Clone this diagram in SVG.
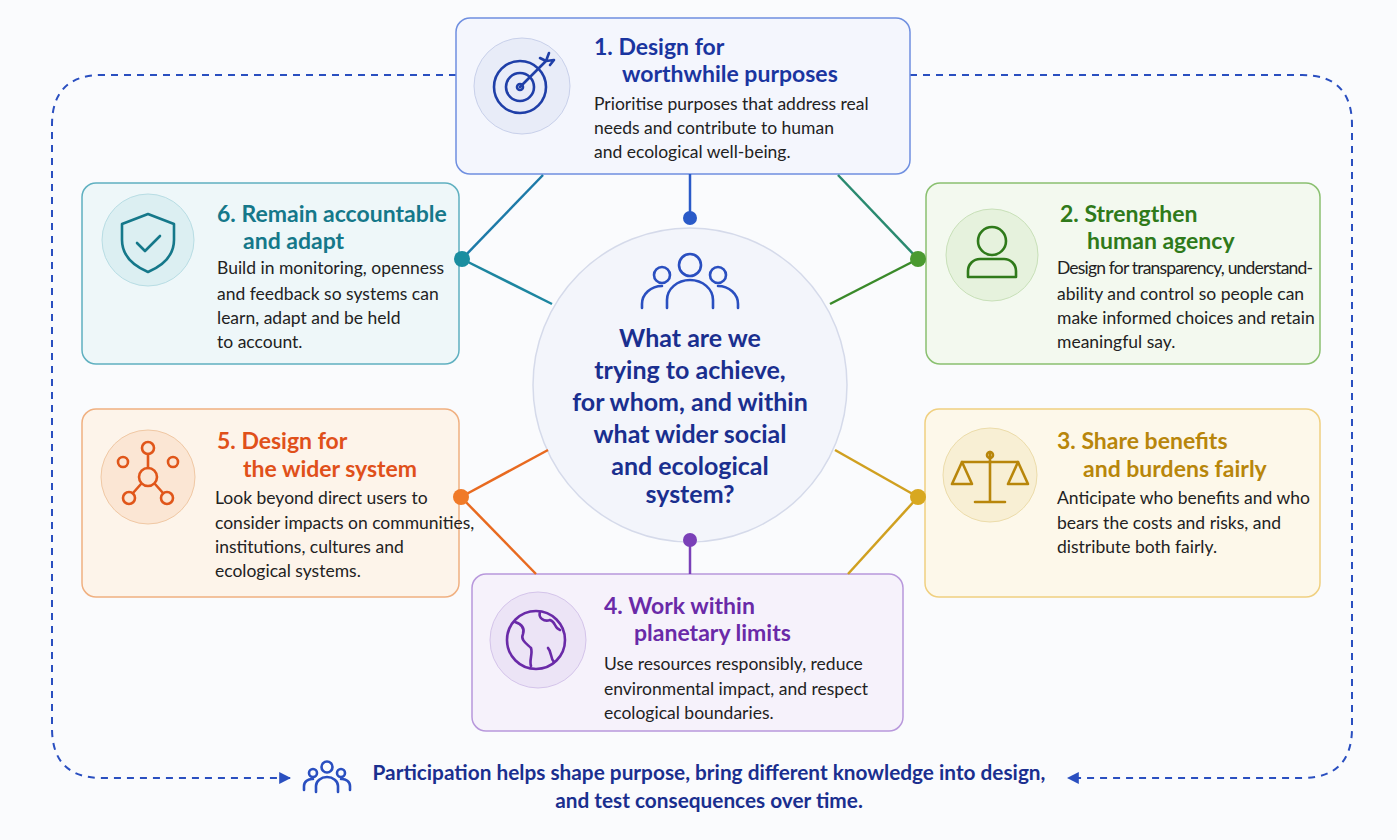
<svg xmlns="http://www.w3.org/2000/svg" width="1397" height="840" viewBox="0 0 1397 840">
<defs>
<style>
text{font-family:"Lato","Open Sans","Liberation Sans",sans-serif}
.t{font-size:23px;font-weight:bold}
.b{font-size:17.5px;fill:#222}
.box{stroke-width:1.5}
.ic{fill:none;stroke-width:2.6;stroke-linecap:round;stroke-linejoin:round}
.dash{fill:none;stroke:#2a4fc0;stroke-width:2;stroke-dasharray:7 6}
</style>
<marker id="ah" viewBox="0 0 10 10" refX="9" refY="5" markerWidth="6" markerHeight="6" orient="auto"><path d="M0,0L10,5L0,10z" fill="#2a4fc0"/></marker>
</defs>
<rect width="1397" height="840" fill="#fafbfd"/>
<g id="loop">
<path class="dash" d="M456,75H102Q52,75 52,125V728Q52,778 102,778H290" marker-end="url(#ah)"/>
<path class="dash" d="M910,75H1302Q1352,75 1352,125V728Q1352,778 1302,778H1068" marker-end="url(#ah)"/>
</g>
<g id="center">
<circle cx="690" cy="385" r="157" fill="#f3f5fb" stroke="#d5daea" stroke-width="1.5"/>
<g class="ic" stroke="#2a4fc0">
<circle cx="690" cy="265" r="11"/><path d="M667,308v-8a23,20 0 0 1 46,0v8"/>
<circle cx="662" cy="275" r="8"/><path d="M642,308v-4a20,18 0 0 1 20,-18"/>
<circle cx="718" cy="275" r="8"/><path d="M738,308v-4a20,18 0 0 0 -20,-18"/>
</g>
<g font-size="25" font-weight="bold" fill="#1a2f8f" text-anchor="middle">
<text x="690" y="347">What are we</text>
<text x="690" y="379">trying to achieve,</text>
<text x="690" y="411">for whom, and within</text>
<text x="690" y="443">what wider social</text>
<text x="690" y="475">and ecological</text>
<text x="690" y="503">system?</text>
</g>
</g>
<g id="n1">
<rect class="box" x="456" y="18" width="454" height="156" rx="14" fill="#f4f6fd" stroke="#6f8fe0"/>
<circle cx="522" cy="86" r="48" fill="#e8ecf8" stroke="#c8d0ea"/>
<g class="ic" stroke="#1f3fa8"><circle cx="520" cy="87" r="26"/><circle cx="520" cy="87" r="14"/><circle cx="520" cy="87" r="3"/><path d="M520,87L546,61M540,58l6,3l3,-8M546,61l8,-1l-4,5"/></g>
<text class="t" x="594" y="55" fill="#1a35a0">1. Design for</text>
<text class="t" x="622" y="82" fill="#1a35a0">worthwhile purposes</text>
<text class="b" x="594" y="110">Prioritise purposes that address real</text>
<text class="b" x="594" y="134">needs and contribute to human</text>
<text class="b" x="594" y="158">and ecological well-being.</text>
</g>
<g id="n6">
<rect class="box" x="82" y="183" width="377" height="181" rx="14" fill="#eef7f9" stroke="#5fb0c0"/>
<circle cx="148" cy="240" r="46" fill="#dcefF2" stroke="#b8dde4"/>
<g class="ic" stroke="#15788a"><path d="M148,214l-26,10v16c0,16 12,26 26,32c14,-6 26,-16 26,-32v-16z"/><path d="M137,243l8,8l15,-15"/></g>
<text class="t" x="217" y="222" fill="#15788a">6. Remain accountable</text>
<text class="t" x="243" y="249" fill="#15788a">and adapt</text>
<text class="b" x="217" y="274">Build in monitoring, openness</text>
<text class="b" x="217" y="300">and feedback so systems can</text>
<text class="b" x="217" y="324">learn, adapt and be held</text>
<text class="b" x="217" y="348">to account.</text>
</g>
<g id="n2">
<rect class="box" x="926" y="183" width="394" height="181" rx="14" fill="#f3f9ef" stroke="#8ac070"/>
<circle cx="992" cy="255" r="46" fill="#e6f2dd" stroke="#c8e0b8"/>
<g class="ic" stroke="#2f7a1a"><circle cx="992" cy="241" r="14"/><path d="M968,277v-6a12,12 0 0 1 12,-12h24a12,12 0 0 1 12,12v6z"/></g>
<text class="t" x="1060" y="222" fill="#2f7a1a">2. Strengthen</text>
<text class="t" x="1087" y="249" fill="#2f7a1a">human agency</text>
<text class="b" x="1057" y="274" textLength="256">Design for transparency, understand-</text>
<text class="b" x="1057" y="300">ability and control so people can</text>
<text class="b" x="1057" y="324">make informed choices and retain</text>
<text class="b" x="1057" y="348">meaningful say.</text>
</g>
<g id="n5">
<rect class="box" x="82" y="409" width="377" height="188" rx="14" fill="#fdf4ea" stroke="#f0b080"/>
<circle cx="148" cy="477" r="47" fill="#fbe6d4" stroke="#f0c8a4"/>
<g class="ic" stroke="#e0561a"><circle cx="148" cy="477" r="9"/><circle cx="148" cy="448" r="6"/><circle cx="123" cy="462" r="5"/><circle cx="173" cy="462" r="5"/><circle cx="129" cy="498" r="6"/><circle cx="167" cy="498" r="6"/><path d="M148,454v14M141,484l-8,9M155,484l8,9"/></g>
<text class="t" x="217" y="449" fill="#e0501a">5. Design for</text>
<text class="t" x="243" y="477" fill="#e0501a">the wider system</text>
<text class="b" x="215" y="504">Look beyond direct users to</text>
<text class="b" x="215" y="529">consider impacts on communities,</text>
<text class="b" x="215" y="553">institutions, cultures and</text>
<text class="b" x="215" y="577">ecological systems.</text>
</g>
<g id="n3">
<rect class="box" x="925" y="409" width="395" height="188" rx="14" fill="#fdf8ea" stroke="#f0d080"/>
<circle cx="990" cy="475" r="47" fill="#f8efd4" stroke="#ecdcaa"/>
<g class="ic" stroke="#b8860b"><path d="M990,452v50M975,502h30M962,462h56"/><circle cx="990" cy="455" r="3"/><path d="M962,462l-10,22h20zM1018,462l-10,22h20z"/></g>
<text class="t" x="1057" y="449" fill="#b8860b">3. Share benefits</text>
<text class="t" x="1083" y="477" fill="#b8860b">and burdens fairly</text>
<text class="b" x="1057" y="504">Anticipate who benefits and who</text>
<text class="b" x="1057" y="529">bears the costs and risks, and</text>
<text class="b" x="1057" y="553">distribute both fairly.</text>
</g>
<g id="n4">
<rect class="box" x="472" y="574" width="431" height="157" rx="14" fill="#f6f2fb" stroke="#b898dc"/>
<circle cx="538" cy="640" r="48" fill="#ece4f6" stroke="#d4c4ea"/>
<g class="ic" stroke="#6a2aa8"><circle cx="536" cy="640" r="29"/><path d="M515,622c6,2 10,6 8,12c-3,6 4,10 8,14c2,6 -2,12 0,18M540,612c-2,6 4,10 10,8c6,2 4,8 10,10M548,648c4,4 2,10 6,14"/></g>
<text class="t" x="604" y="614" fill="#6a2aa8">4. Work within</text>
<text class="t" x="634" y="641" fill="#6a2aa8">planetary limits</text>
<text class="b" x="604" y="670">Use resources responsibly, reduce</text>
<text class="b" x="604" y="695">environmental impact, and respect</text>
<text class="b" x="604" y="719">ecological boundaries.</text>
</g>
<g id="connectors" stroke-width="2.5">
<line x1="690" y1="174" x2="690" y2="218" stroke="#2a5ac8"/>
<line x1="543" y1="175" x2="462" y2="259" stroke="#1d7aa8"/>
<line x1="462" y1="259" x2="552" y2="304" stroke="#1d86a0"/>
<line x1="838" y1="175" x2="918" y2="259" stroke="#2a8a70"/>
<line x1="918" y1="259" x2="830" y2="304" stroke="#3a8a2a"/>
<line x1="548" y1="450" x2="461" y2="497" stroke="#e86a20"/>
<line x1="461" y1="497" x2="536" y2="574" stroke="#e86a20"/>
<line x1="835" y1="450" x2="918" y2="497" stroke="#d0a020"/>
<line x1="918" y1="497" x2="848" y2="574" stroke="#d0a020"/>
<line x1="690" y1="540" x2="690" y2="574" stroke="#7a40b8"/>
<circle cx="690" cy="218" r="7" fill="#2a5ac8"/>
<circle cx="462" cy="259" r="8" fill="#1a8ea0"/>
<circle cx="918" cy="259" r="8" fill="#4a9a30"/>
<circle cx="461" cy="497" r="8" fill="#f07a28"/>
<circle cx="918" cy="497" r="8" fill="#d8a820"/>
<circle cx="690" cy="540" r="7" fill="#7a40b8"/>
</g>
<g id="footer">
<g class="ic" stroke="#2a4fc0" stroke-width="2"><circle cx="327" cy="767" r="5.5"/><circle cx="313" cy="773" r="4"/><circle cx="341" cy="773" r="4"/><path d="M316,792v-6a11,9 0 0 1 22,0v6M304,790v-4a8,7 0 0 1 9,-7M350,790v-4a8,7 0 0 0 -9,-7"/></g>
<g font-size="20.8" font-weight="bold" fill="#1a2f8f" text-anchor="middle">
<text x="709" y="780">Participation helps shape purpose, bring different knowledge into design,</text>
<text x="709" y="808">and test consequences over time.</text>
</g>
</g>
</svg>
